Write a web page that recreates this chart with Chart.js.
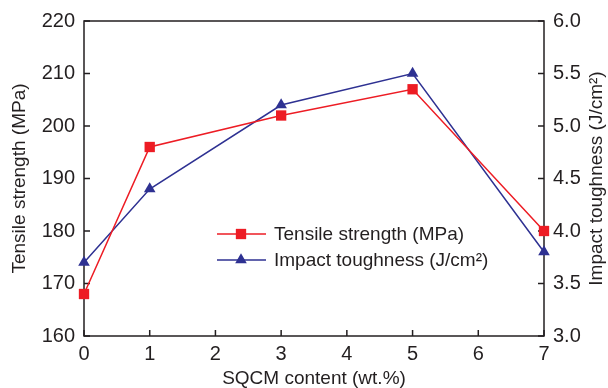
<!DOCTYPE html>
<html>
<head>
<meta charset="utf-8">
<script src="https://cdn.jsdelivr.net/npm/chart.js@4.4.0/dist/chart.umd.min.js"></script>
<style>
  html, body { margin: 0; padding: 0; background: #fff; }
  #wrap { width: 608px; height: 388px; }
</style>
</head>
<body>
<div id="wrap"><canvas id="chart" width="608" height="388"></canvas></div>
<script>
const sqcmContent = [0, 1, 3, 5, 7];
const tensileStrength = [168, 196, 202, 207, 180];
const impactToughness = [3.7, 4.4, 5.2, 5.5, 3.8];

const xTicks = [0, 1, 2, 3, 4, 5, 6, 7];
const tensileTicks = [160, 170, 180, 190, 200, 210, 220];
const impactTicks = [3.0, 3.5, 4.0, 4.5, 5.0, 5.5, 6.0];

const xTitle = "SQCM content (wt.%)";
const leftTitle = "Tensile strength (MPa)";
const rightTitle = "Impact toughness (J/cm\u00B2)";

const INK = "#231F20";
const RED = "#ED1C24";
const BLUE = "#2E3192";
const FONT = "'Liberation Sans', Arial, sans-serif";

// axes box, inward ticks, axis titles and the legend inside the plot
const framePlugin = {
  id: "frame",
  beforeDatasetsDraw(chart) {
    const { ctx, chartArea: a, scales } = chart;
    ctx.save();
    ctx.strokeStyle = INK;
    ctx.lineWidth = 1.5;
    ctx.strokeRect(a.left, a.top, a.right - a.left, a.bottom - a.top);
    ctx.beginPath();
    scales.x.ticks.forEach((t) => {
      const x = scales.x.getPixelForValue(t.value);
      ctx.moveTo(x, a.bottom);
      ctx.lineTo(x, a.bottom - 6);
    });
    scales.y.ticks.forEach((t) => {
      const y = scales.y.getPixelForValue(t.value);
      ctx.moveTo(a.left, y);
      ctx.lineTo(a.left + 6, y);
    });
    scales.y1.ticks.forEach((t) => {
      const y = scales.y1.getPixelForValue(t.value);
      ctx.moveTo(a.right, y);
      ctx.lineTo(a.right - 6, y);
    });
    ctx.stroke();
    ctx.restore();
  },
  afterDraw(chart) {
    const { ctx, chartArea: a } = chart;
    ctx.save();
    ctx.fillStyle = INK;
    ctx.font = "19px " + FONT;
    ctx.textAlign = "center";
    ctx.textBaseline = "middle";
    ctx.fillText(xTitle, (a.left + a.right) / 2, 379);

    const midY = (a.top + a.bottom) / 2;
    ctx.save();
    ctx.translate(20, midY);
    ctx.rotate(-Math.PI / 2);
    ctx.fillText(leftTitle, 0, 0);
    ctx.restore();

    ctx.save();
    ctx.translate(597, midY);
    ctx.rotate(-Math.PI / 2);
    ctx.fillText(rightTitle, 0, 0);
    ctx.restore();

    // legend
    const rows = [234, 260];
    chart.data.datasets.forEach((ds, i) => {
      const y = rows[i];
      ctx.strokeStyle = ds.borderColor;
      ctx.lineWidth = 1.5;
      ctx.beginPath();
      ctx.moveTo(217, y);
      ctx.lineTo(266, y);
      ctx.stroke();
      ctx.fillStyle = ds.backgroundColor;
      Chart.helpers.drawPoint(ctx, { pointStyle: ds.pointStyle, radius: ds.pointRadius, rotation: 0, borderWidth: 0 }, 241, y);
      ctx.fillStyle = INK;
      ctx.textAlign = "left";
      ctx.fillText(ds.label, 274, y + 1);
    });
    ctx.restore();
  }
};

const tickFont = { family: FONT, size: 20 };

new Chart(document.getElementById("chart"), {
  type: "line",
  data: {
    datasets: [
      {
        label: "Tensile strength (MPa)",
        data: sqcmContent.map((x, i) => ({ x: x, y: tensileStrength[i] })),
        yAxisID: "y",
        borderColor: RED,
        backgroundColor: RED,
        borderWidth: 1.5,
        pointStyle: "rect",
        pointRadius: 7.3,
        pointBorderWidth: 0,
        clip: false,
      },
      {
        label: rightTitle,
        data: sqcmContent.map((x, i) => ({ x: x, y: impactToughness[i] })),
        yAxisID: "y1",
        borderColor: BLUE,
        backgroundColor: BLUE,
        borderWidth: 1.5,
        pointStyle: "triangle",
        pointRadius: 6.7,
        pointBorderWidth: 0,
        clip: false,
      },
    ],
  },
  options: {
    responsive: false,
    animation: false,
    layout: { padding: { top: 21, left: 0, right: 0, bottom: 0 } },
    plugins: {
      legend: { display: false },
      tooltip: { enabled: false },
    },
    scales: {
      x: {
        type: "linear",
        min: 0,
        max: 7,
        afterBuildTicks: (s) => { s.ticks = xTicks.map((v) => ({ value: v })); },
        afterFit: (s) => { s.height = 52; },
        grid: { display: false, drawTicks: false },
        border: { display: false },
        ticks: { font: tickFont, color: INK, padding: 6, maxRotation: 0 },
      },
      y: {
        position: "left",
        min: 160,
        max: 220,
        afterBuildTicks: (s) => { s.ticks = tensileTicks.map((v) => ({ value: v })); },
        afterFit: (s) => { s.width = 84; },
        grid: { display: false, drawTicks: false },
        border: { display: false },
        ticks: { font: tickFont, color: INK, padding: 9 },
      },
      y1: {
        position: "right",
        min: 3,
        max: 6,
        afterBuildTicks: (s) => { s.ticks = impactTicks.map((v) => ({ value: v })); },
        afterFit: (s) => { s.width = 64; },
        grid: { display: false, drawTicks: false },
        border: { display: false },
        ticks: { font: tickFont, color: INK, padding: 9, callback: (v) => Number(v).toFixed(1) },
      },
    },
  },
  plugins: [framePlugin],
});
</script>
</body>
</html>
